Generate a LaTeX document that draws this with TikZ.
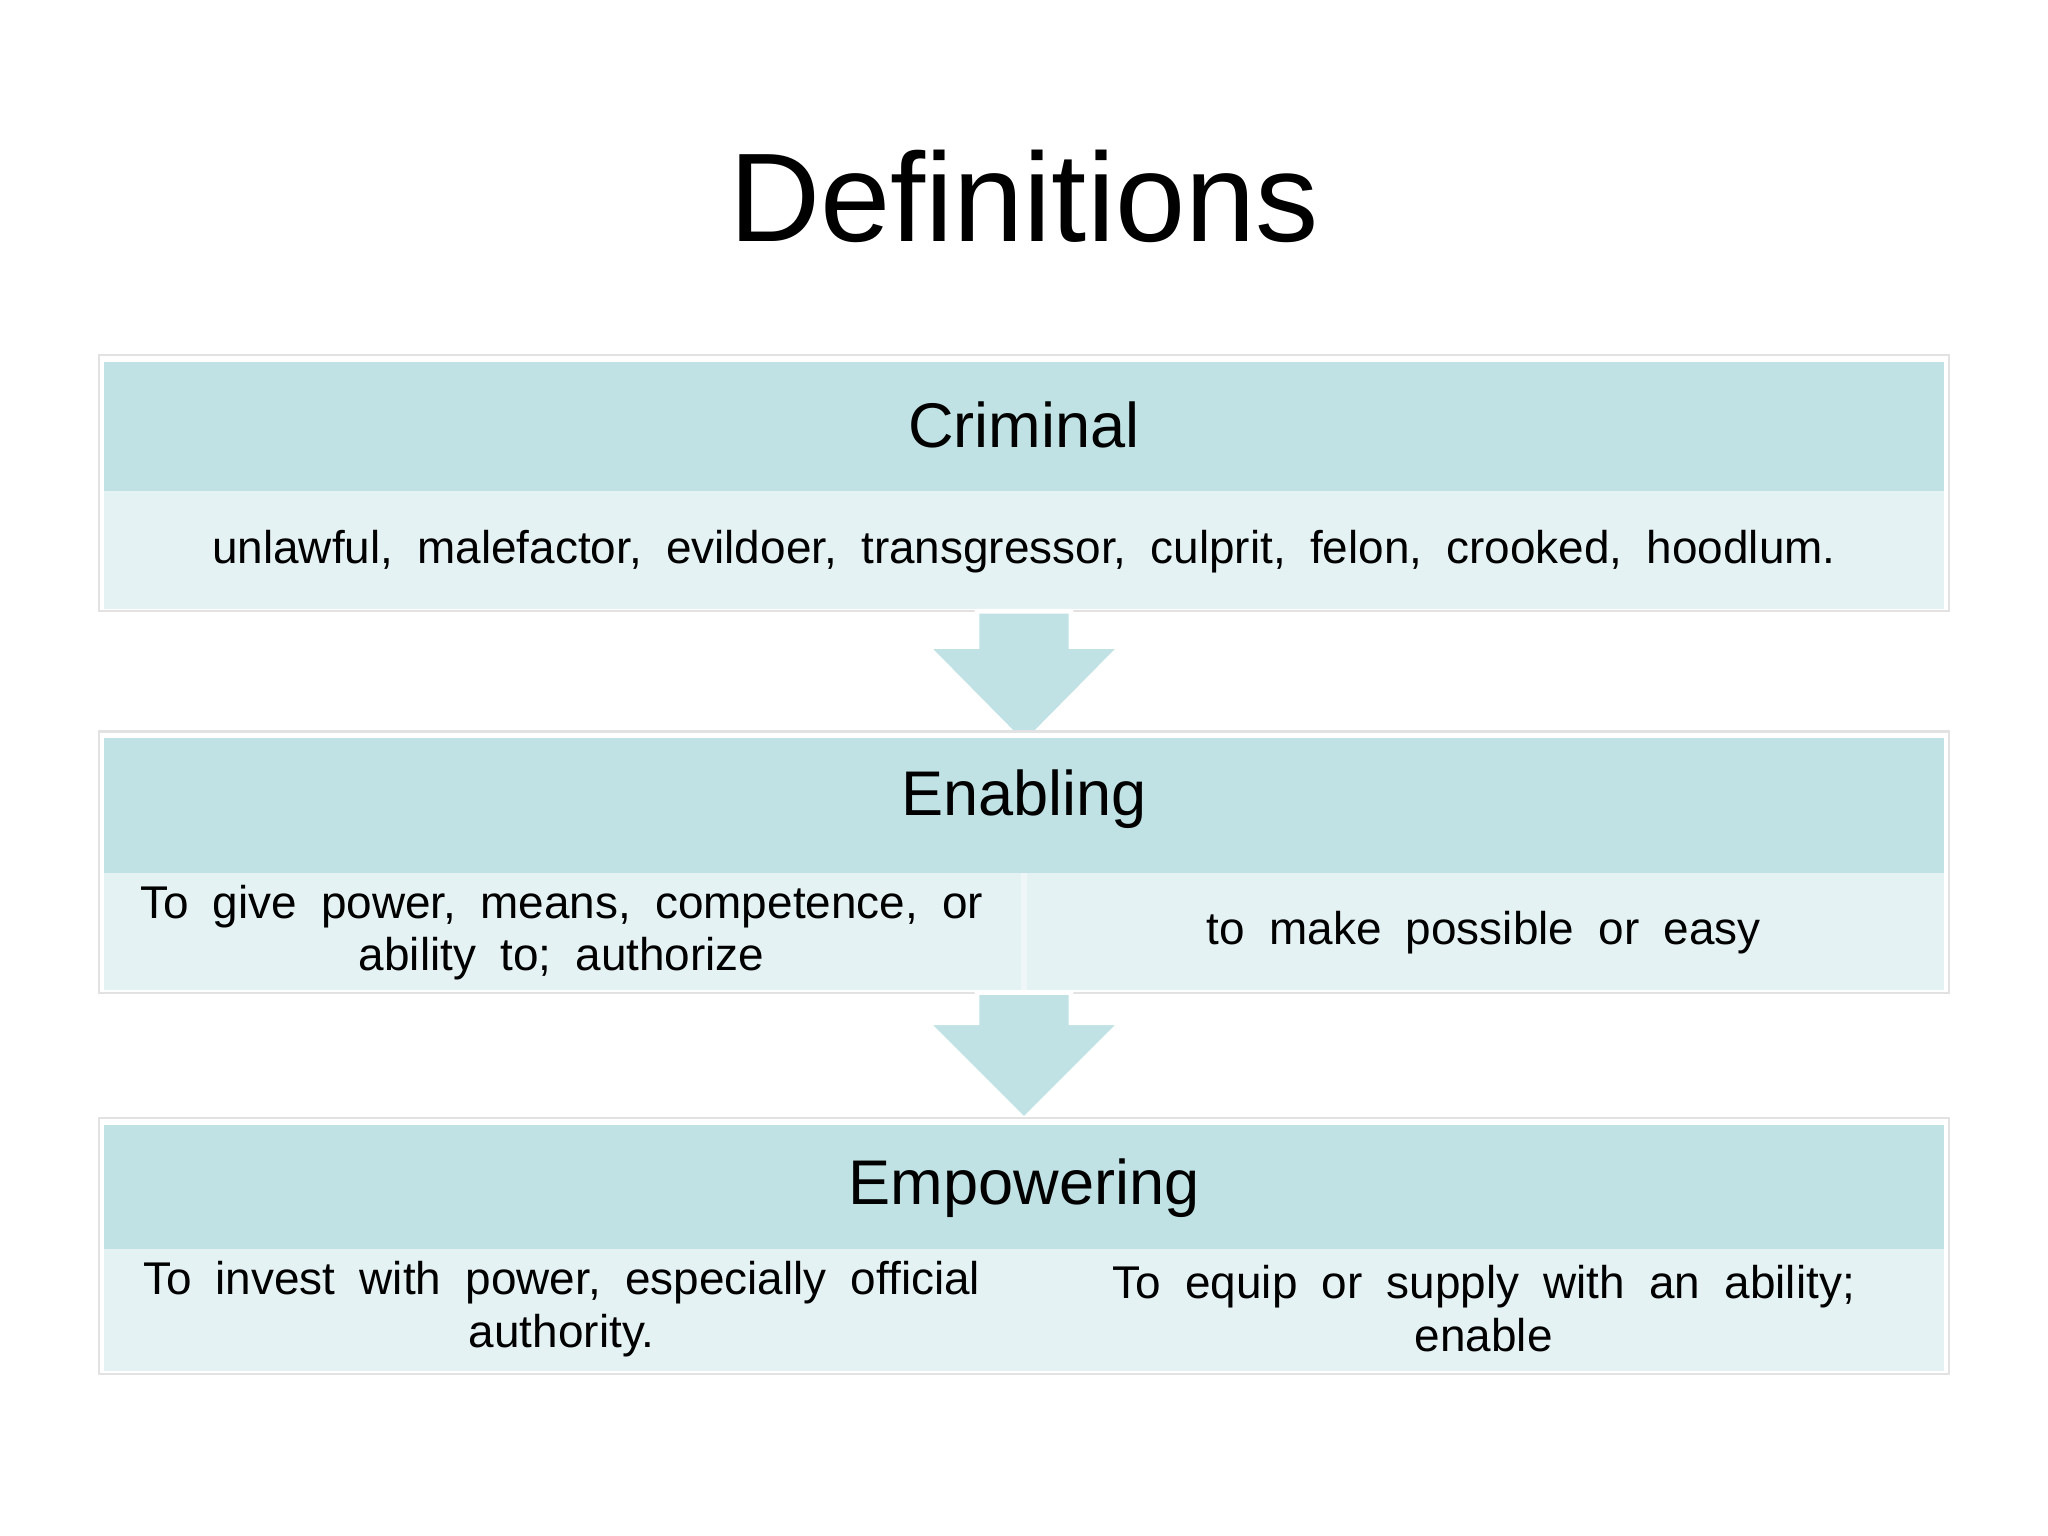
\documentclass[tikz,border=0pt]{standalone}
\usepackage{fontspec}
\setmainfont{Liberation Sans}
\newfontfamily\bodyfont[WordSpace=1.9]{Liberation Sans}
\begin{document}
\begin{tikzpicture}[x=0.02cm,y=-0.02cm,
 hdr/.style={fill=hdrc,draw=none},
 bdy/.style={fill=bdyc,draw=none},
 frame/.style={draw=frc,line width=1pt,fill=white},
 arr/.style={fill=hdrc,draw=white,line width=2pt},
 htxt/.style={font=\fontsize{27.5}{32}\selectfont},
 btxt/.style={font=\bodyfont\fontsize{20}{23}\selectfont,align=center}]
\definecolor{hdrc}{HTML}{C0E2E4}
\definecolor{bdyc}{HTML}{E5F2F3}
\definecolor{frc}{HTML}{E2E2E2}
\definecolor{sep}{HTML}{EEF6F7}
\path[use as bounding box,fill=white] (0,0) rectangle (1568,1176);
\node[font=\fontsize{55}{62}\selectfont] (title) at (784,150) {Definitions};
% box1
\draw[frame] (76,272) rectangle (1492,468);
\fill[hdr] (80,277) rectangle (1488,376);
\fill[bdy] (80,376) rectangle (1488,466);
\node[htxt] (h1) at (784,325) {Criminal};
\node[btxt] (b1) at (784,422) {unlawful, malefactor, evildoer, transgressor, culprit, felon, crooked, hoodlum.};
% arrow1
\draw[arr] (748,468) -- (820,468) -- (820,495) -- (858,495) -- (784,570) -- (710,495) -- (748,495) -- cycle;
% box2
\draw[frame] (76,560) rectangle (1492,760);
\fill[hdr] (80,565) rectangle (1488,668);
\fill[bdy] (80,668) rectangle (1488,758);
\fill[sep] (782,668) rectangle (786,758);
\node[htxt] (h2) at (784,612) {Enabling};
\node[btxt] (b2a) at (430,714) {To give power, means, competence, or\\ ability to; authorize};
\node[btxt] (b2b) at (1136,714) {to make possible or easy};
% arrow2
\draw[arr] (748,760) -- (820,760) -- (820,783) -- (858,783) -- (784,857) -- (710,783) -- (748,783) -- cycle;
% box3
\draw[frame] (76,856) rectangle (1492,1052);
\fill[hdr] (80,861) rectangle (1488,956);
\fill[bdy] (80,956) rectangle (1488,1050);
\node[htxt] (h3) at (784,910) {Empowering};
\node[btxt] (b3a) at (430,1002) {To invest with power, especially official\\ authority.};
\node[btxt] (b3b) at (1136,1002) {To equip or supply with an ability;\\ enable};
\end{tikzpicture}
\end{document}
